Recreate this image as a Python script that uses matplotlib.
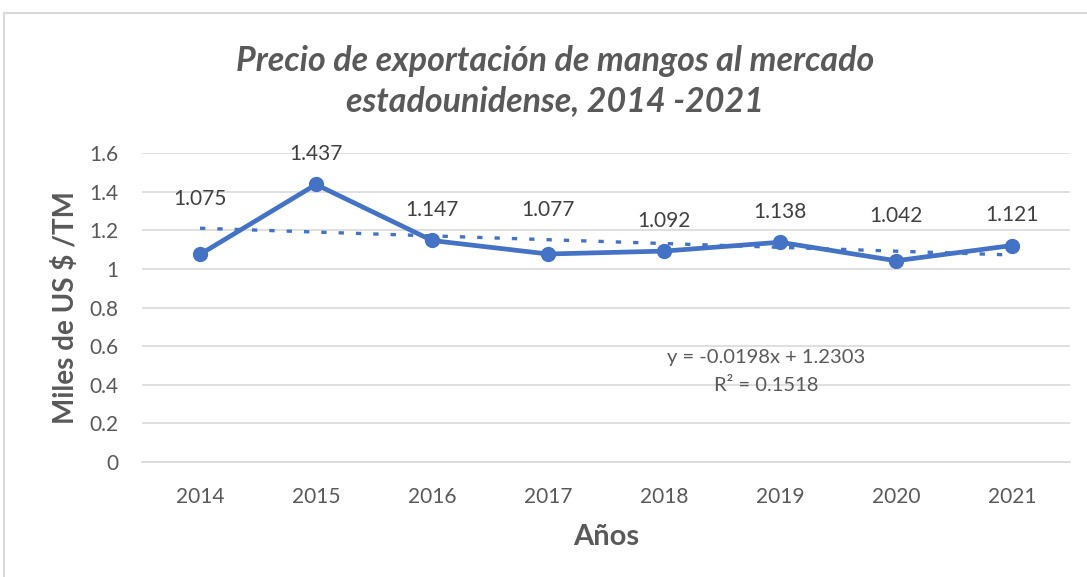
import matplotlib
matplotlib.use("Agg")
import matplotlib.pyplot as plt
from matplotlib.patches import Rectangle
import numpy as np

years = ["2014", "2015", "2016", "2017", "2018", "2019", "2020", "2021"]
prices = [1.075, 1.437, 1.147, 1.077, 1.092, 1.138, 1.042, 1.121]
trend_slope = -0.0198
trend_intercept = 1.2303
r_squared = 0.1518
label_offsets = [40, 22, 22, 32, 22, 22, 32, 22]  # points above marker

plt.rcParams['font.family'] = ['Lato', 'DejaVu Sans']
blue = "#4472C4"
gray = "#595959"

fig = plt.figure(figsize=(10.87, 5.77), dpi=100)
fig.patches.append(Rectangle((4/1087, -0.1), 1.2, 1 - 13/577 + 0.1, transform=fig.transFigure,
                             fill=False, edgecolor="#D9D9D9", linewidth=1.5, zorder=0))
ax = fig.add_axes([142/1087, 1 - 462/577, (1070 - 142)/1087, (462 - 153)/577])

x = np.arange(len(years))
ax.set_xlim(-0.5, len(years) - 0.5)
ax.set_ylim(0, 1.6)
ax.set_yticks(np.arange(0, 1.61, 0.2))
ax.set_yticklabels(["0", "0.2", "0.4", "0.6", "0.8", "1", "1.2", "1.4", "1.6"])
ax.set_xticks(x)
ax.set_xticklabels(years)
ax.grid(axis="y", color="#D9D9D9", linewidth=1.2)
ax.set_axisbelow(True)
for s in ["top", "right", "left"]:
    ax.spines[s].set_visible(False)
ax.spines["bottom"].set_color("#D9D9D9")
ax.spines["bottom"].set_linewidth(1.2)
ax.tick_params(length=0, labelsize=15, colors=gray)
ax.tick_params(axis="x", pad=18)
ax.tick_params(axis="y", pad=17)

trend = trend_slope * (x + 1) + trend_intercept
ax.plot(x, trend, linestyle=(0, (1.6, 3.6)), color=blue, linewidth=2.4, dash_capstyle="butt", zorder=2)
ax.plot(x, prices, color=blue, linewidth=3.4, marker="o", markersize=10, zorder=3)

for xi, yi, off in zip(x, prices, label_offsets):
    ax.annotate(f"{yi:.3f}", (xi, yi), xytext=(0, off), textcoords="offset points",
                ha="center", va="center", fontsize=15, color="#404040")

ax.text(4.88, 0.539, f"y = {trend_slope}x + {trend_intercept}", ha="center", va="center",
        fontsize=14.5, color=gray)
ax.text(4.88, 0.394, f"R² = {r_squared}", ha="center", va="center", fontsize=14.5, color=gray)

fig.text(555/1087, 1 - 61/577, "Precio de exportación de mangos al mercado", ha="center", va="center",
         fontsize=24.5, fontweight="bold", fontstyle="italic", color=gray)
fig.text(555/1087, 1 - 101/577, "estadounidense, 2014 -2021", ha="center", va="center",
         fontsize=24.5, fontweight="bold", fontstyle="italic", color=gray)
ax.set_ylabel("Miles de US $ /TM", fontsize=20, fontweight="bold", color=gray, va="center")
ax.yaxis.set_label_coords((65 - 142) / 928, 0.5)
ax.set_xlabel("Años", fontsize=21, fontweight="bold", color=gray, va="center")
ax.xaxis.set_label_coords(0.5, -(537 - 462) / 309)

fig.savefig("out.png", dpi=100)
